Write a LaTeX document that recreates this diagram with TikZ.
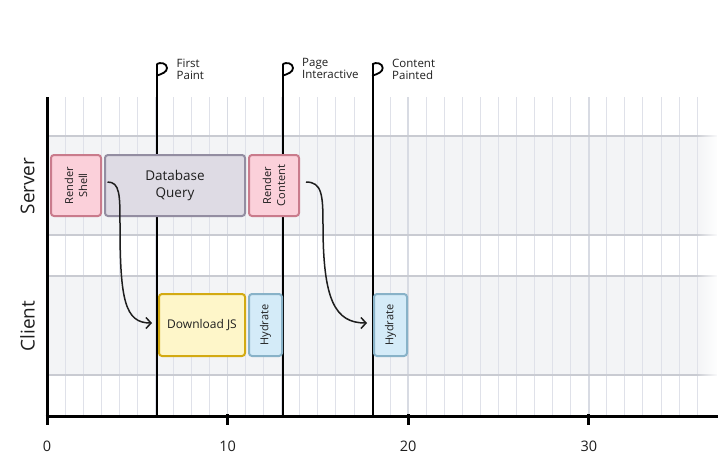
\documentclass[tikz,border=0pt]{standalone}
\usepackage{fontspec}
\setmainfont{Open Sans}
\usetikzlibrary{fadings,arrows.meta,calc}
\definecolor{bandfill}{HTML}{F3F4F6}
\definecolor{laneline}{HTML}{C9CBD2}
\definecolor{gridc}{HTML}{DFE1E9}
\definecolor{gridm}{HTML}{D8DBE3}
\definecolor{pinkf}{HTML}{FBD0DA}
\definecolor{pinkd}{HTML}{C97B8C}
\definecolor{dbf}{HTML}{DEDBE4}
\definecolor{dbd}{HTML}{938DA1}
\definecolor{yelf}{HTML}{FEF6C9}
\definecolor{yeld}{HTML}{D3AA12}
\definecolor{bluf}{HTML}{D4EBF8}
\definecolor{blud}{HTML}{88B2C8}
\definecolor{ink}{HTML}{1E1E1E}
\tikzfading[name=fadeIn, left color=transparent!100, right color=transparent!0]
\tikzset{
  box/.style={draw, line width=2pt, rounded corners=3pt, inner sep=0pt, align=center, text=ink},
  vbox/.style={box, rotate=90, font=\fontsize{11}{14}\selectfont},
  gridl/.style={draw=gridc, line width=1pt},
  gridmaj/.style={draw=gridm, line width=1.5pt},
  lanel/.style={draw=laneline, line width=1.2pt},
  mile/.style={draw=black, line width=2pt},
  flagl/.style={draw=black, line width=1.8pt, line cap=round},
  mlabel/.style={font=\fontsize{11.5}{12}\selectfont, align=left, inner sep=0pt, anchor=north west, text=ink},
  conn/.style={draw=ink, line width=1.5pt, -{Straight Barb[length=5pt,width=11pt,line width=1.5pt]}},
  axis/.style={draw=black, line width=3pt},
  ticklab/.style={font=\fontsize{14.5}{16}\selectfont, text=ink},
  lanelab/.style={font=\fontsize{19}{20}\selectfont, rotate=90, text=ink}
}
\begin{document}
\begin{tikzpicture}[x=1pt,y=-1pt]
\useasboundingbox (0,0) rectangle (726,469);
% lane bands
\fill[bandfill] (48,136) rectangle (717,235);
\fill[bandfill] (48,276) rectangle (717,375);
% grid
\foreach \i in {1,...,36}{
  \pgfmathtruncatemacro{\m}{mod(\i,10)}
  \ifnum\m=0
    \draw[gridmaj] ({47+18.06*\i},97) -- ({47+18.06*\i},416);
  \else
    \draw[gridl] ({47+18.06*\i},97) -- ({47+18.06*\i},416);
  \fi
}
% lane lines
\draw[lanel] (47,136) -- (717,136);
\draw[lanel] (47,235) -- (717,235);
\draw[lanel] (47,276) -- (717,276);
\draw[lanel] (47,375) -- (717,375);
% fade out right end of lanes
\fill[white, path fading=fadeIn] (696,130) rectangle (719,240);
\fill[white, path fading=fadeIn] (696,270) rectangle (719,380);
% milestones
\coordinate (fpt) at (157,64);  \coordinate (fpb) at (157,416);
\coordinate (pit) at (283,64);  \coordinate (pib) at (283,416);
\coordinate (cpt) at (372.7,64); \coordinate (cpb) at (372.7,416);
\draw[mile] (fpt) -- (fpb);
\draw[mile] (pit) -- (pib);
\draw[mile] (cpt) -- (cpb);
\foreach \c in {fpt,pit,cpt}{
  \draw[flagl] (\c) .. controls ($(\c)+(3,-2)$) and ($(\c)+(10,-1)$) .. ($(\c)+(10,4)$)
     .. controls ($(\c)+(10,8)$) and ($(\c)+(5,10)$) .. ($(\c)+(0,11.5)$);
}
\node[mlabel] (fpl) at (176.5,58.5) {First\\Paint};
\node[mlabel] (pil) at (302,58.5) {Page\\Interactive};
\node[mlabel] (cpl) at (392,58.5) {Content\\Painted};
% server boxes
\node[vbox, fill=pinkf, draw=pinkd, minimum width=61pt, minimum height=50pt] (shell) at (76,185.5) {Render\\Shell};
\node[box, fill=dbf, draw=dbd, minimum width=140pt, minimum height=61pt, font=\fontsize{13.5}{17}\selectfont] (db) at (175,185.5) {Database\\Query};
\node[vbox, fill=pinkf, draw=pinkd, minimum width=61pt, minimum height=50pt] (rcont) at (274,185.5) {Render\\Content};
% client boxes
\node[box, fill=yelf, draw=yeld, minimum width=86pt, minimum height=62pt, font=\fontsize{12}{14}\selectfont] (dl) at (202,325) {Download JS};
\node[vbox, fill=bluf, draw=blud, minimum width=62pt, minimum height=33pt] (hy1) at (265.5,325) {Hydrate};
\node[vbox, fill=bluf, draw=blud, minimum width=62pt, minimum height=33pt] (hy2) at (390.5,325) {Hydrate};
% connectors
\coordinate (s1) at ($(shell.center)+(31.5,-3.5)$);
\coordinate (e1) at ($(dl.center)+(-50,-2)$);
\draw[conn] (s1) .. controls (120,182) and (120,195) .. (120,225)
   .. controls (120,300) and (125,323) .. (e1);
\coordinate (s2) at ($(rcont.center)+(32,-3.5)$);
\coordinate (e2) at ($(hy2.center)+(-23.5,-2)$);
\draw[conn] (s2) .. controls (322,182) and (323,195) .. (323,225)
   .. controls (323,300) and (335,323) .. (e2);
% axes
\draw[axis] (47,97) -- (47,425);
\draw[axis] (45.5,416.5) -- (717.5,416.5);
\foreach \t in {10,20,30}{
  \draw[axis] ({47+18.06*\t},414) -- ({47+18.06*\t},425);
}
\node[ticklab] (t0) at (47,446) {0};
\node[ticklab] (t10) at (227.6,446) {10};
\node[ticklab] (t20) at (408.2,446) {20};
\node[ticklab] (t30) at (588.8,446) {30};
% lane labels
\node[lanelab] (srv) at (27.5,186) {Server};
\node[lanelab] (cli) at (27.5,326) {Client};
\end{tikzpicture}
\end{document}
